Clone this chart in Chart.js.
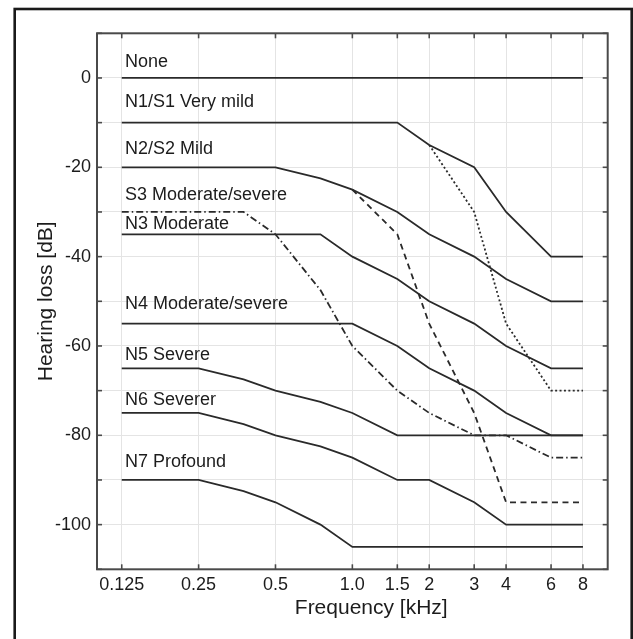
<!DOCTYPE html>
<html>
<head>
<meta charset="utf-8">
<script src="https://cdn.jsdelivr.net/npm/chart.js@4/dist/chart.umd.min.js"></script>
<style>
  html, body { margin: 0; padding: 0; background: #fff; }
  #wrap { width: 633px; height: 639px; }
</style>
</head>
<body>
<div id="wrap"><canvas id="c" width="633" height="639"></canvas></div>
<script>
// ---- data ----
const freqs = [0.125, 0.25, 0.375, 0.5, 0.75, 1.0, 1.5, 2, 3, 4, 6, 8];
const none = [0, 0, 0, 0, 0, 0, 0, 0, 0, 0, 0, 0];
const n1 = [-10, -10, -10, -10, -10, -10, -10, -15, -20, -30, -40, -40];
const n2 = [-20, -20, -20, -20, -22.5, -25, -30, -35, -40, -45, -50, -50];
const n3 = [-35, -35, -35, -35, -35, -40, -45, -50, -55, -60, -65, -65];
const n4 = [-55, -55, -55, -55, -55, -55, -60, -65, -70, -75, -80, -80];
const n5 = [-65, -65, -67.5, -70, -72.5, -75, -80, -80, -80, -80, -80, -80];
const n6 = [-75, -75, -77.5, -80, -82.5, -85, -90, -90, -95, -100, -100, -100];
const n7 = [-90, -90, -92.5, -95, -100, -105, -105, -105, -105, -105, -105, -105];
const s1 = [null, null, null, null, null, null, null, -15, -30, -55, -70, -70];
const s2 = [null, null, null, null, null, -25, -35, -55, -75, -95, -95, -95];
const s3 = [-30, -30, -30, -35, -47.5, -60, -70, -75, -80, -80, -85, -85];

const xTickValues = [0.125, 0.25, 0.5, 1.0, 1.5, 2, 3, 4, 6, 8];
const xTickLabels = ["0.125", "0.25", "0.5", "1.0", "1.5", "2", "3", "4", "6", "8"];

const curveNames = ["None", "N1/S1 Very mild", "N2/S2 Mild", "S3 Moderate/severe", "N3 Moderate",
                    "N4 Moderate/severe", "N5 Severe", "N6 Severer", "N7 Profound"];
const curveLabelY = [3.6, -5.4, -16.0, -26.3, -32.7, -50.7, -62.1, -72.2, -85.9];

const FONT = '"Liberation Sans", Arial, Helvetica, sans-serif';
const LINE = '#2a2a2a';
const TEXT = '#1c1c1c';

function pts(arr) { return freqs.map((f, i) => ({ x: f, y: arr[i] })); }
function ds(arr, dash) {
  return { data: pts(arr), borderColor: LINE, borderWidth: 1.8, borderDash: dash || [],
           pointRadius: 0, tension: 0, fill: false, spanGaps: false };
}

const decor = {
  id: 'decor',
  beforeDraw(chart) {
    const c = chart.ctx;
    c.save(); c.fillStyle = '#fff'; c.fillRect(0, 0, chart.width, chart.height); c.restore();
  },
  afterDraw(chart) {
    const ctx = chart.ctx, a = chart.chartArea, x = chart.scales.x, y = chart.scales.y;
    ctx.save();
    // outer border
    ctx.strokeStyle = '#1a1a1a'; ctx.lineWidth = 2.6;
    ctx.strokeRect(14.7, 9, 617, 680);
    // plot frame
    ctx.strokeStyle = '#4a4a4a'; ctx.lineWidth = 2;
    ctx.strokeRect(a.left, a.top, a.right - a.left, a.bottom - a.top);
    // inward ticks
    ctx.lineWidth = 1.6;
    const seg = (x1, y1, x2, y2) => { ctx.beginPath(); ctx.moveTo(x1, y1); ctx.lineTo(x2, y2); ctx.stroke(); };
    x.ticks.forEach((t, i) => { const px = x.getPixelForTick(i); seg(px, a.bottom, px, a.bottom - 5); seg(px, a.top, px, a.top + 5); });
    y.ticks.forEach((t, i) => { const py = y.getPixelForTick(i); seg(a.left, py, a.left + 5, py); seg(a.right, py, a.right - 5, py); });
    // curve labels
    ctx.fillStyle = TEXT; ctx.font = '18px ' + FONT; ctx.textAlign = 'left'; ctx.textBaseline = 'middle';
    const lx = x.getPixelForValue(freqs[0]) + 3.3;
    curveNames.forEach((n, i) => ctx.fillText(n, lx, y.getPixelForValue(curveLabelY[i])));
    // axis titles
    ctx.fillStyle = TEXT; ctx.font = '21px ' + FONT; ctx.textAlign = 'center';
    ctx.fillText('Frequency [kHz]', a.left + 0.537 * (a.right - a.left), 608);
    ctx.translate(46.7, (a.top + a.bottom) / 2);
    ctx.rotate(-Math.PI / 2);
    ctx.fillText('Hearing loss [dB]', 0, 0);
    ctx.restore();
  }
};

new Chart(document.getElementById('c'), {
  type: 'line',
  data: {
    datasets: [ds(none), ds(n1), ds(n2), ds(n3), ds(n4), ds(n5), ds(n6), ds(n7),
               ds(s1, [2, 2.4]), ds(s2, [6, 4.5]), ds(s3, [7, 3, 1.5, 3])]
  },
  options: {
    responsive: false,
    animation: false,
    devicePixelRatio: 1,
    layout: { padding: { left: 0, right: 25.3, top: 33.3, bottom: 0 } },
    plugins: { legend: { display: false }, tooltip: { enabled: false }, title: { display: false } },
    scales: {
      x: {
        type: 'logarithmic', min: 0.1, max: 10,
        afterBuildTicks(s) { s.ticks = xTickValues.map(v => ({ value: v })); },
        afterFit(s) { s.height = 69.7; },
        grid: { color: '#e4e4e4', lineWidth: 1, drawTicks: false },
        border: { display: false },
        ticks: {
          autoSkip: false, maxRotation: 0, padding: 5, color: TEXT,
          font: { family: FONT, size: 18 },
          callback(v) { const i = xTickValues.indexOf(v); return i >= 0 ? xTickLabels[i] : ''; }
        }
      },
      y: {
        type: 'linear', min: -110, max: 10,
        afterFit(s) { s.width = 97; },
        grid: { color: '#e4e4e4', lineWidth: 1, drawTicks: false },
        border: { display: false },
        ticks: {
          stepSize: 10, autoSkip: false, padding: 6, color: TEXT,
          font: { family: FONT, size: 18 },
          callback(v) { return (v % 20 === 0 && v <= 0 && v >= -100) ? String(v) : ''; }
        }
      }
    }
  },
  plugins: [decor]
});
</script>
</body>
</html>
